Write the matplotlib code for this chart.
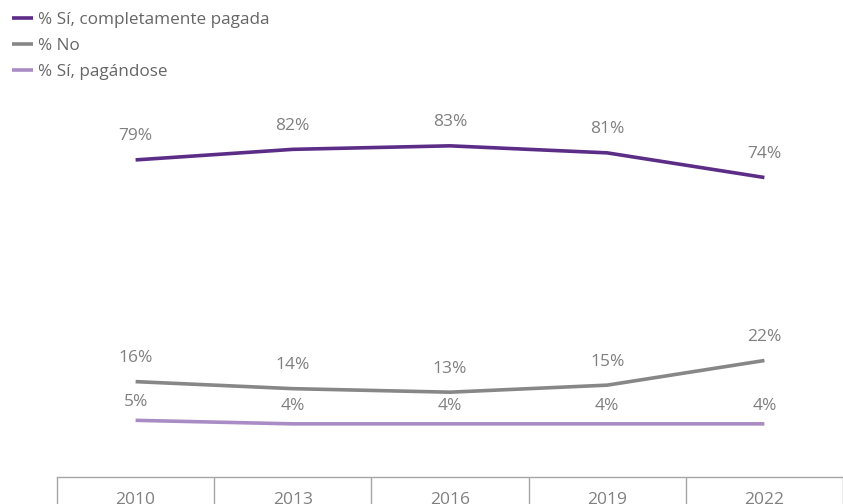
import matplotlib
matplotlib.use("Agg")
import matplotlib.pyplot as plt
import numpy as np

plt.rcParams["font.family"] = ["Open Sans", "DejaVu Sans"]

years = ["2010", "2013", "2016", "2019", "2022"]
pagada = [79, 82, 83, 81, 74]
no = [16, 14, 13, 15, 22]
pagandose = [5, 4, 4, 4, 4]

series = [
    ("% Sí, completamente pagada", pagada, "#5c2d87", 17),
    ("% No", no, "#878787", 17),
    ("% Sí, pagándose", pagandose, "#a98cc5", 13),
]

text_gray = "#808080"

fig = plt.figure(figsize=(8.43, 5.04), dpi=100)
ax = fig.add_axes([57 / 843, 1 - 477 / 504, 1 - 57 / 843, (477 - 86) / 504])

x = np.arange(len(years))
for name, vals, color, off in series:
    ax.plot(x, vals, color=color, lw=2.6, label=name, solid_capstyle="butt")
    for xi, v in zip(x, vals):
        ax.annotate(f"{v}%", xy=(xi, v), xytext=(0, off), textcoords="offset points",
                    ha="center", va="center", fontsize=12.5, color=text_gray)

ax.set_xlim(-0.5, len(years) - 0.5)
ax.set_ylim(-11.1, 100)
ax.set_yticks([])
ax.set_xticks(x)
ax.set_xticklabels(years, fontsize=12.5, color=text_gray)
ax.tick_params(axis="x", which="major", length=0, pad=11)
ax.set_xticks(np.arange(-0.5, len(years), 1.0), minor=True)
ax.tick_params(axis="x", which="minor", length=22, width=1, color="#a6a6a6", direction="out")

for s in ["top", "right", "left"]:
    ax.spines[s].set_visible(False)
ax.spines["bottom"].set_color("#a6a6a6")
ax.spines["bottom"].set_linewidth(1)

leg = fig.legend(loc="upper left", bbox_to_anchor=(0.0, 1.0), frameon=False,
                 fontsize=12.3, handlelength=1.25, handletextpad=0.3,
                 labelspacing=0.6, borderaxespad=0.3)
for t in leg.get_texts():
    t.set_color("#666666")

fig.savefig("out.png", dpi=100)
